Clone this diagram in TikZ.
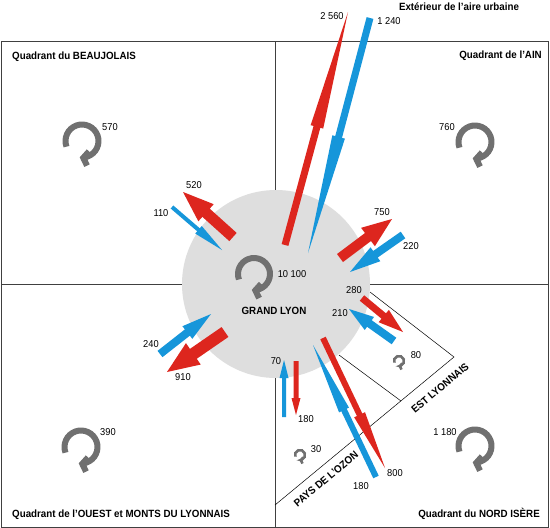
\documentclass[tikz,border=0pt]{standalone}
\usepackage{fontspec}
\setmainfont{Liberation Sans}[FakeStretch=0.93]
\usepackage{tikz}
\usetikzlibrary{calc,arrows.meta}
\definecolor{rouge}{RGB}{221,38,30}
\definecolor{bleu}{RGB}{22,150,218}
\definecolor{gris}{RGB}{112,112,112}
\definecolor{disque}{RGB}{222,222,222}
% fleche pleine : couleur, depart, pointe, demi-largeur, demi-largeur tete, longueur tete
\newcommand{\fleche}[6]{%
  \path ($(#3)!#6pt!(#2)$) coordinate (base);
  \fill[#1] ($(#2)!#4pt!90:(#3)$) -- ($(base)!#4pt!90:(#3)$) -- ($(base)!#5pt!90:(#3)$) -- (#3)
    -- ($(base)!#5pt!-90:(#3)$) -- ($(base)!#4pt!-90:(#3)$) -- ($(#2)!#4pt!-90:(#3)$) -- cycle;}
% boucle : centre, rayon, epaisseur
\newcommand{\tourne}[3]{%
  \draw[gris,line width=#3pt,-{Straight Barb[length=#3pt*0.8,width=#3pt*2.4]}]
    ($(#1)+(200:#2pt)$) arc[start angle=200,end angle=-98,radius=#2pt];}

\begin{document}
\begin{tikzpicture}[x=1pt,y=-1pt,
  cadre/.style={draw=black!75,line width=1pt},
  trait/.style={draw=black,line width=0.5pt},
  valeur/.style={font=\fontsize{10}{12}\selectfont,inner sep=0pt},
  titre/.style={font=\fontsize{10.5}{12}\selectfont\bfseries,inner sep=0pt}]
  \useasboundingbox (0,0) rectangle (550,528);
  \fill[white] (0,0) rectangle (550,528);

  % quadrants
  \draw[cadre] (1,41) rectangle (548,527);
  \draw[cadre] (275,41) -- (275,527);
  \draw[cadre] (1,284) -- (548,284);
  \node[titre,anchor=west] (beau) at (12,57) {Quadrant du BEAUJOLAIS};
  \node[titre,anchor=east] (ain) at (542,56) {Quadrant de l’AIN};
  \node[titre,anchor=west] (ouest) at (12,515) {Quadrant de l’OUEST et MONTS DU LYONNAIS};
  \node[titre,anchor=east] (isere) at (540,514) {Quadrant du NORD ISÈRE};
  \node[titre] (ext) at (459,7) {Extérieur de l’aire urbaine};

  % est lyonnais et pays de l'ozon
  \coordinate (el1) at (370,292);
  \coordinate (el2) at (454,357);
  \coordinate (el3) at (401,401);
  \coordinate (el4) at (339,355);
  \coordinate (po1) at (275,505);
  \draw[trait] (el1) -- (el2) -- (po1);
  \draw[trait] (el4) -- (el3);
  \node[titre,rotate=40] (estl) at (440,388) {EST LYONNAIS};
  \node[titre,rotate=40] (ozon) at (326,479) {PAYS DE L’OZON};

  \node[circle,fill=disque,minimum size=188pt,inner sep=0pt] (gl) at (276,284) {};
  \node[titre] (nomgl) at (274,311) {GRAND LYON};

  % boucles internes
  \coordinate (bgl) at (254,274);
  \coordinate (bbeau) at (82,141);
  \coordinate (bain) at (475,142);
  \coordinate (bouest) at (81,447);
  \coordinate (bisere) at (475,446);
  \coordinate (bestl) at (399,361);
  \coordinate (bozon) at (300,455);
  \tourne{bgl}{16}{6}
  \tourne{bbeau}{16.5}{6}
  \tourne{bain}{16.5}{6}
  \tourne{bouest}{16.5}{6}
  \tourne{bisere}{16.5}{6}
  \tourne{bestl}{5}{2.6}
  \tourne{bozon}{5}{2.6}
  \node[valeur] (vgl) at (292,274) {10 100};
  \node[valeur] (vbeau) at (110,127) {570};
  \node[valeur] (vain) at (447,127) {760};
  \node[valeur] (vouest) at (108,432) {390};
  \node[valeur] (visere) at (445,432) {1 180};
  \node[valeur] (vestl) at (416,355) {80};
  \node[valeur] (vozon) at (316,449) {30};

  % flux
  \coordinate (r2560a) at (285,245); \coordinate (r2560b) at (348,12);
  \coordinate (b1240a) at (370,18);  \coordinate (b1240b) at (308,253);
  \coordinate (r520a) at (233,237);  \coordinate (r520b) at (183,192);
  \coordinate (b110a) at (172,207);  \coordinate (b110b) at (222,250);
  \coordinate (r750a) at (340,258);  \coordinate (r750b) at (392,219);
  \coordinate (b220a) at (403,235);  \coordinate (b220b) at (350,272);
  \coordinate (r280a) at (362,298);  \coordinate (r280b) at (403,332);
  \coordinate (b210a) at (394,341);  \coordinate (b210b) at (349,309);
  \coordinate (b240a) at (160,354);  \coordinate (b240b) at (211,314);
  \coordinate (r910a) at (225,332);  \coordinate (r910b) at (167,372);
  \coordinate (b70a) at (284,417);   \coordinate (b70b) at (284,360);
  \coordinate (r180a) at (296,361);  \coordinate (r180b) at (296,415);
  \coordinate (b180a) at (376,477);  \coordinate (b180b) at (313,345);
  \coordinate (r800a) at (323,338);  \coordinate (r800b) at (385,468);
  \fleche{rouge}{r2560a}{r2560b}{3.5}{6.5}{119}
  \fleche{bleu}{b1240a}{b1240b}{3.5}{6.5}{120}
  \fleche{rouge}{r520a}{r520b}{5.5}{11.5}{31}
  \fleche{bleu}{b110a}{b110b}{2}{5}{31}
  \fleche{rouge}{r750a}{r750b}{5}{11.5}{30}
  \fleche{bleu}{b220a}{b220b}{4}{8.5}{31}
  \fleche{rouge}{r280a}{r280b}{3.5}{8}{25}
  \fleche{bleu}{b210a}{b210b}{4}{8}{25}
  \fleche{bleu}{b240a}{b240b}{4}{8}{30}
  \fleche{rouge}{r910a}{r910b}{6}{13}{32}
  \fleche{bleu}{b70a}{b70b}{2}{4.5}{18}
  \fleche{rouge}{r180a}{r180b}{2.5}{4.5}{17}
  \fleche{bleu}{b180a}{b180b}{3}{5.5}{72}
  \fleche{rouge}{r800a}{r800b}{3}{6}{59}
  \node[valeur] (v2560) at (332,16) {2 560};
  \node[valeur] (v1240) at (389,21) {1 240};
  \node[valeur] (v520) at (194,185) {520};
  \node[valeur] (v110) at (161,213) {110};
  \node[valeur] (v750) at (382,212) {750};
  \node[valeur] (v220) at (411,246) {220};
  \node[valeur] (v280) at (354,290) {280};
  \node[valeur] (v210) at (340,313) {210};
  \node[valeur] (v240) at (151,344) {240};
  \node[valeur] (v910) at (183,377) {910};
  \node[valeur] (v70) at (276,361) {70};
  \node[valeur] (v180r) at (306,419) {180};
  \node[valeur] (v180b) at (361,486) {180};
  \node[valeur] (v800) at (395,473) {800};
\end{tikzpicture}
\end{document}
